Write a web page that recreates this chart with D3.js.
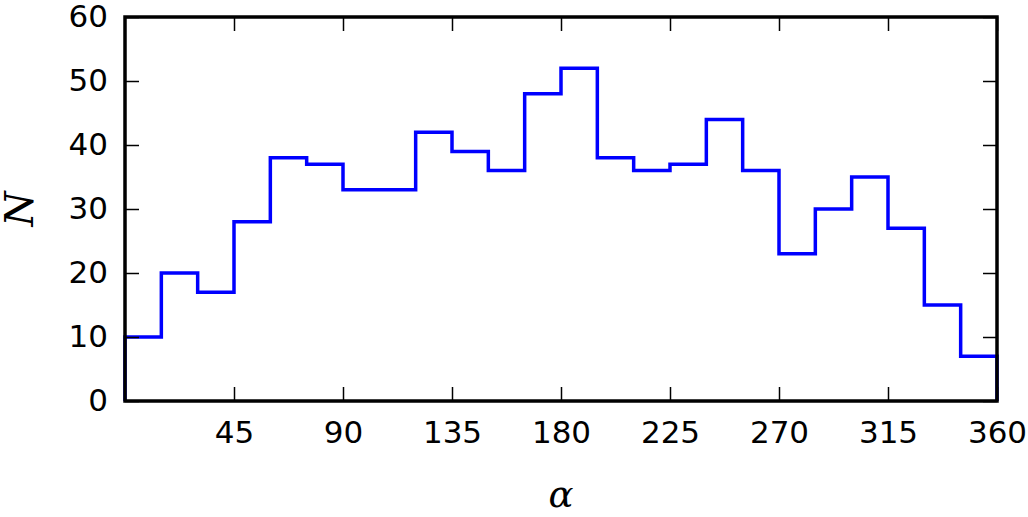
<!DOCTYPE html>
<html>
<head>
<meta charset="utf-8">
<script src="https://cdn.jsdelivr.net/npm/d3@7"></script>
<style>
  body { margin: 0; background: #fff; }
  svg { display: block; }
  .tick text { font-family: "DejaVu Sans", sans-serif; font-size: 31px; fill: #000; }
</style>
</head>
<body>
<div id="chart"></div>
<script>
// histogram of angles, 15 degree bins
var binEdges = d3.range(0, 361, 15);
var counts = [10, 20, 17, 28, 38, 37, 33, 33, 42, 39, 36, 48, 52, 38, 36, 37, 44, 36, 23, 30, 35, 27, 15, 7];
var xTicks = [45, 90, 135, 180, 225, 270, 315, 360];
var yTicks = [0, 10, 20, 30, 40, 50, 60];

var W = 1028, H = 517;
var margin = { top: 17, right: 31, bottom: 116, left: 125 },
    width = W - margin.left - margin.right,
    height = H - margin.top - margin.bottom;

var svg = d3.select("#chart").append("svg")
    .attr("width", W)
    .attr("height", H);

var g = svg.append("g")
    .attr("transform", "translate(" + margin.left + "," + margin.top + ")");

var x = d3.scaleLinear().domain([0, 360]).range([0, width]);
var y = d3.scaleLinear().domain([0, 60]).range([height, 0]);

// step outline like matplotlib histtype='step'
var pts = [[0, 0]];
counts.forEach(function(c, i) {
  pts.push([binEdges[i], c]);
  pts.push([binEdges[i + 1], c]);
});
pts.push([360, 0]);

var line = d3.line()
    .x(function(d) { return x(d[0]); })
    .y(function(d) { return y(d[1]); });

g.append("path")
    .datum(pts)
    .attr("fill", "none")
    .attr("stroke", "#0000ff")
    .attr("stroke-width", 3.5)
    .attr("stroke-linejoin", "miter")
    .attr("d", line);

// axes, ticks pointing inward on all four sides
var tickLen = 14;
function styleAxis(sel) {
  sel.select(".domain").remove();
  sel.selectAll(".tick line").attr("stroke", "#000").attr("stroke-width", 1.5);
}

g.append("g")
    .attr("transform", "translate(0," + height + ")")
    .call(d3.axisBottom(x).tickValues(xTicks).tickSizeInner(-tickLen).tickSizeOuter(0).tickPadding(20))
    .call(styleAxis);

g.append("g")
    .call(d3.axisTop(x).tickValues(xTicks).tickSizeInner(-tickLen).tickSizeOuter(0).tickFormat(""))
    .call(styleAxis);

g.append("g")
    .call(d3.axisLeft(y).tickValues(yTicks).tickSizeInner(-tickLen).tickSizeOuter(0).tickPadding(17))
    .call(styleAxis);

g.append("g")
    .attr("transform", "translate(" + width + ",0)")
    .call(d3.axisRight(y).tickValues(yTicks).tickSizeInner(-tickLen).tickSizeOuter(0).tickFormat(""))
    .call(styleAxis);

// frame
g.append("rect")
    .attr("width", width)
    .attr("height", height)
    .attr("fill", "none")
    .attr("stroke", "#000")
    .attr("stroke-width", 3.5);

// axis labels
svg.append("text")
    .attr("x", margin.left + width / 2)
    .attr("y", 507)
    .attr("text-anchor", "middle")
    .style("font-family", "'DejaVu Serif', serif")
    .style("font-style", "italic")
    .style("font-size", "37px")
    .text("α");

svg.append("text")
    .attr("transform", "translate(33," + (margin.top + height / 2) + ") rotate(-90)")
    .attr("text-anchor", "middle")
    .style("font-family", "'DejaVu Serif', serif")
    .style("font-style", "italic")
    .style("font-size", "40px")
    .text("N");
</script>
</body>
</html>
